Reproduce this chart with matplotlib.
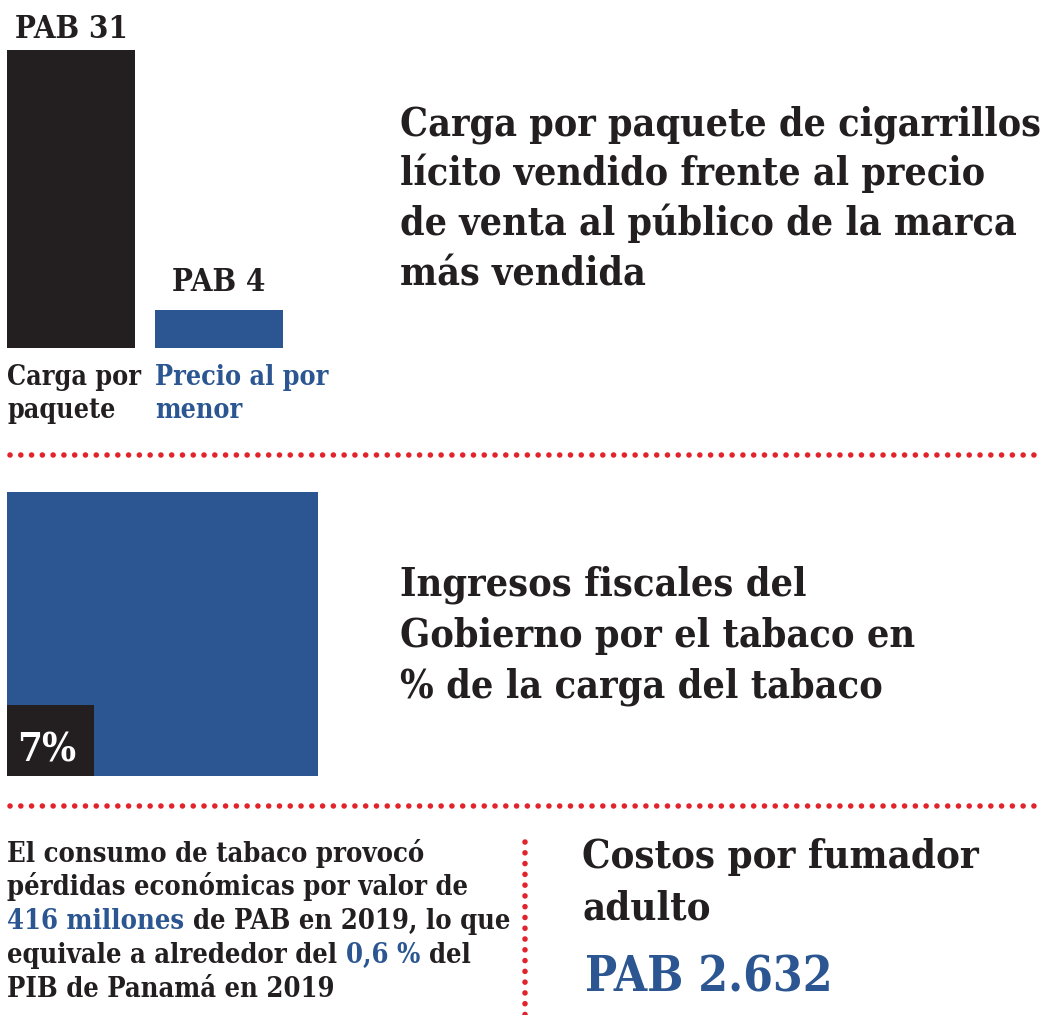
import numpy as np
import matplotlib
matplotlib.use("Agg")
import matplotlib.pyplot as plt
from matplotlib.patches import Rectangle
from matplotlib import font_manager as fm

# ---------------- data ----------------
bar_categories = ["Carga por\npaquete", "Precio al por\nmenor"]
bar_values = [31, 4]
bar_value_labels = ["PAB 31", "PAB 4"]
revenue_pct = 7
losses_millions = 416
losses_gdp_pct = "0,6"
loss_year = 2019
cost_per_smoker = 2632

title1_lines = ["Carga por paquete de cigarrillos",
                "lícito vendido frente al precio",
                "de venta al público de la marca",
                "más vendida"]
title2_lines = ["Ingresos fiscales del",
                "Gobierno por el tabaco en",
                "% de la carga del tabaco"]
cost_title_lines = ["Costos por fumador", "adulto"]

# ---------------- style ----------------
BLACK = "#231f20"
BLUE = "#2b5691"
RED = "#e1232b"

cond = [f for f in fm.findSystemFonts() if "SerifCondensed-Bold." in f]
if cond:
    FONT = dict(fontproperties=fm.FontProperties(fname=cond[0]))
else:
    FONT = dict(family="DejaVu Serif", weight="bold")

W, H = 1044, 1015
fig = plt.figure(figsize=(W / 100, H / 100), dpi=100)
fig.patch.set_facecolor("white")
bg = fig.add_axes([0, 0, 1, 1])
bg.set_xlim(0, W)
bg.set_ylim(H, 0)
bg.axis("off")
renderer = fig.canvas.get_renderer()


def mk(size):
    if "fontproperties" in FONT:
        fp = FONT["fontproperties"].copy()
        fp.set_size(size)
        return dict(fontproperties=fp)
    return dict(fontsize=size, **FONT)


def text_width(s, size):
    t = bg.text(0, 0, s, **mk(size))
    w = t.get_window_extent(renderer).width
    t.remove()
    return w


def fit_size(s, target_px):
    return 20 * target_px / text_width(s, 20)


def px_axes(left, top, right, bottom):
    return fig.add_axes([left / W, 1 - bottom / H, (right - left) / W, (bottom - top) / H])


PT = 0.72  # points per pixel at dpi 100

# ---------------- section 1: bars ----------------
ax1 = px_axes(7, 50, 283, 348)
bw = 128 / 148
ax1.bar(range(len(bar_values)), bar_values, width=bw, color=[BLACK, BLUE])
ax1.set_ylim(0, max(bar_values))
ax1.set_xlim(-bw / 2, len(bar_values) - 1 + bw / 2)
ax1.axis("off")

val_size = fit_size("PAB 31", 113)
label_offsets = [12, 19]
for i, (v, lab) in enumerate(zip(bar_values, bar_value_labels)):
    ax1.annotate(lab, (i, v), xytext=(0, label_offsets[i] * PT), textcoords="offset points",
                 ha="center", va="baseline", color=BLACK, **mk(val_size))

cat_size = fit_size("Precio al por", 173)
cat_colors = [BLACK, BLUE]
for i, cat in enumerate(bar_categories):
    for j, line in enumerate(cat.split("\n")):
        ax1.annotate(line, (i - bw / 2, 0), xytext=(0, -(37 + 33 * j) * PT),
                     textcoords="offset points", ha="left", va="baseline",
                     color=cat_colors[i], **mk(cat_size))

t1_size = fit_size(title1_lines[0], 640)
for j, line in enumerate(title1_lines):
    bg.text(400, 135 + 50 * j, line, color=BLACK, ha="left", va="baseline", **mk(t1_size))

# ---------------- dotted separators ----------------
def dotted(xs, ys):
    bg.plot(xs, ys, color=RED, lw=4.0, linestyle=(0, (0.01, 1.93)), dash_capstyle="round")

dotted([10, 1044], [455, 455])
dotted([10, 1044], [806, 806])
dotted([525, 525], [842, 1015])

# ---------------- section 2: area ----------------
ax2 = px_axes(7, 492, 318, 776)
ax2.set_xlim(0, 1)
ax2.set_ylim(0, 1)
ax2.axis("off")
ax2.add_patch(Rectangle((0, 0), 1, 1, color=BLUE, lw=0))
k = 1.0556
frac = revenue_pct / 100
ax2.add_patch(Rectangle((0, 0), np.sqrt(frac) * k, np.sqrt(frac) / k, color=BLACK, lw=0))
pct_size = fit_size(f"{revenue_pct}%", 59)
ax2.annotate(f"{revenue_pct}%", (0, 0), xytext=(10 * PT, 15 * PT), textcoords="offset points",
             ha="left", va="baseline", color="white", **mk(pct_size))

t2_size = fit_size(title2_lines[1], 515)
for j, line in enumerate(title2_lines):
    bg.text(400, 596 + 51 * j, line, color=BLACK, ha="left", va="baseline", **mk(t2_size))

# ---------------- section 3: text ----------------
para = [
    [("El consumo de tabaco provocó", BLACK)],
    [("pérdidas económicas por valor de", BLACK)],
    [(f"{losses_millions} millones", BLUE), (f" de PAB en {loss_year}, lo que", BLACK)],
    [("equivale a alrededor del ", BLACK), (f"{losses_gdp_pct} %", BLUE), (" del", BLACK)],
    [(f"PIB de Panamá en {loss_year}", BLACK)],
]
p_size = fit_size("".join(s for s, _ in para[2]), 503)
for j, segs in enumerate(para):
    y = 861.5 + 33.8 * j
    prefix = ""
    for s, c in segs:
        full = prefix + s
        core = s.lstrip()
        x = 7 + (text_width(full, p_size) - text_width(core, p_size))
        bg.text(x, y, core, color=c, ha="left", va="baseline", **mk(p_size))
        prefix = full

c_size = fit_size(cost_title_lines[0], 396)
for j, line in enumerate(cost_title_lines):
    bg.text(582, 868 + 51 * j, line, color=BLACK, ha="left", va="baseline", **mk(c_size))

cost_str = "PAB " + f"{cost_per_smoker:,}".replace(",", ".")
v_size = fit_size(cost_str, 247)
bg.text(585, 991, cost_str, color=BLUE, ha="left", va="baseline", **mk(v_size))

fig.savefig("out.png", dpi=100, facecolor="white")
